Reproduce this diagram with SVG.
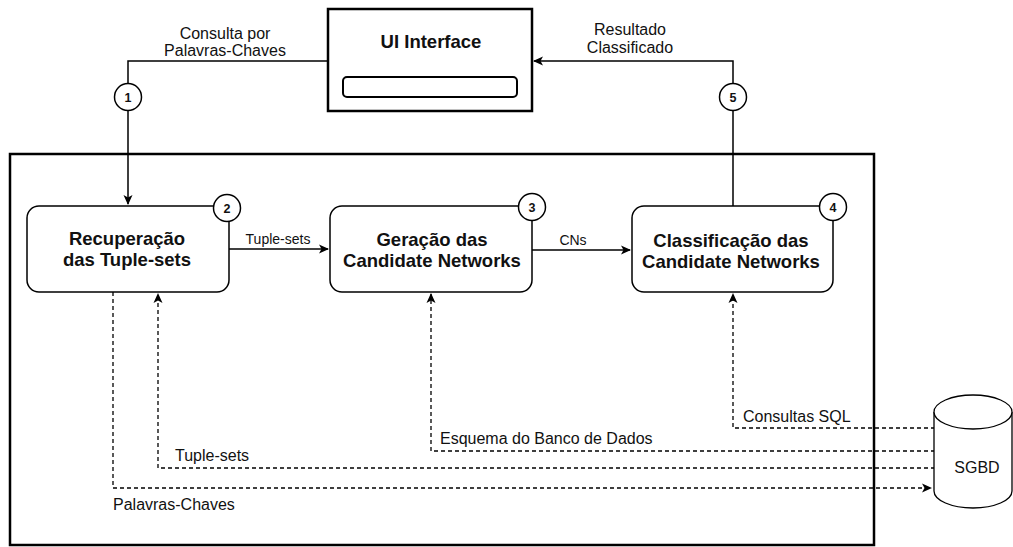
<svg xmlns="http://www.w3.org/2000/svg" width="1013" height="547" viewBox="0 0 1013 547">
  <defs>
    <marker id="arrow" viewBox="0 0 10 10" refX="9" refY="5" markerWidth="10" markerHeight="10" markerUnits="userSpaceOnUse" orient="auto">
      <path d="M0,0.5 L10,5 L0,9.5 L2.5,5 Z" fill="#000"/>
    </marker>
    <style>
      .lbl { font-family: "Liberation Sans", Arial, sans-serif; font-size: 16px; fill: #111; }
      .sm { font-size: 14px; }
      .ttl { font-family: "Liberation Sans", Arial, sans-serif; font-size: 18.5px; font-weight: bold; fill: #111; text-anchor: middle; }
      .num { font-family: "Liberation Sans", Arial, sans-serif; font-size: 12.5px; font-weight: bold; fill: #111; text-anchor: middle; }
      .box { fill: #fff; stroke: #000; stroke-width: 1.5; }
      .step { fill: #fff; stroke: #000; stroke-width: 1.5; }
      .solid { fill: none; stroke: #000; stroke-width: 1.5; }
      .dash { fill: none; stroke: #000; stroke-width: 1.3; stroke-dasharray: 4 3; }
    </style>
  </defs>

  <rect width="1013" height="547" fill="#fff"/>

  <!-- system boundary -->
  <rect x="10" y="154" width="864" height="391" fill="none" stroke="#000" stroke-width="2.5"/>

  <!-- connectors -->
  <g id="connectors">
    <path class="solid" d="M328,61 H128 V204" marker-end="url(#arrow)"/>
    <path class="solid" d="M733,206 V61 H534" marker-end="url(#arrow)"/>
    <path class="solid" d="M229,249 H328" marker-end="url(#arrow)"/>
    <path class="solid" d="M532,250 H630" marker-end="url(#arrow)"/>
    <path class="dash" d="M113,292 V488 H931" marker-end="url(#arrow)"/>
    <path class="dash" d="M935,468 H158 V294" marker-end="url(#arrow)"/>
    <path class="dash" d="M935,451 H431 V294" marker-end="url(#arrow)"/>
    <path class="dash" d="M935,428 H733 V294" marker-end="url(#arrow)"/>

    <text class="lbl" x="225" y="39" text-anchor="middle">Consulta por</text>
    <text class="lbl" x="225" y="56" text-anchor="middle">Palavras-Chaves</text>
    <text class="lbl" x="630" y="35" text-anchor="middle">Resultado</text>
    <text class="lbl" x="630" y="53" text-anchor="middle">Classificado</text>
    <text class="lbl sm" x="278" y="244" text-anchor="middle">Tuple-sets</text>
    <text class="lbl sm" x="573" y="245" text-anchor="middle">CNs</text>
    <text class="lbl" x="743" y="422">Consultas SQL</text>
    <text class="lbl" x="440" y="444">Esquema do Banco de Dados</text>
    <text class="lbl" x="175" y="461">Tuple-sets</text>
    <text class="lbl" x="113" y="510">Palavras-Chaves</text>
  </g>

  <!-- UI -->
  <g id="ui">
    <rect x="328" y="9" width="204" height="102" fill="#fff" stroke="#000" stroke-width="2.5"/>
    <text class="ttl" x="431" y="48" font-size="16.5">UI Interface</text>
    <rect x="343" y="77" width="174" height="20" rx="4" fill="#fff" stroke="#000" stroke-width="2"/>
  </g>

  <!-- step 1 -->
  <g id="step1">
    <circle class="step" cx="128" cy="97" r="13.5"/>
    <text class="num" x="128" y="101.5">1</text>
  </g>

  <!-- step 5 -->
  <g id="step5">
    <circle class="step" cx="733" cy="97" r="13.5"/>
    <text class="num" x="733" y="101.5">5</text>
  </g>

  <!-- Recuperação -->
  <g id="recuperacao">
    <rect class="box" x="27" y="206" width="202" height="86" rx="12"/>
    <text class="ttl" x="127" y="245" font-size="17.5">Recuperação</text>
    <text class="ttl" x="127" y="266" font-size="17.5">das Tuple-sets</text>
    <circle class="step" cx="227" cy="208" r="13.5"/>
    <text class="num" x="227" y="212.5">2</text>
  </g>

  <!-- Geração -->
  <g id="geracao">
    <rect class="box" x="330" y="206" width="202" height="86" rx="12"/>
    <text class="ttl" x="432" y="246">Geração das</text>
    <text class="ttl" x="432" y="267">Candidate Networks</text>
    <circle class="step" cx="532" cy="207" r="13.5"/>
    <text class="num" x="532" y="211.5">3</text>
  </g>

  <!-- Classificação -->
  <g id="classificacao">
    <rect class="box" x="632" y="206" width="201" height="86" rx="12"/>
    <text class="ttl" x="731" y="247">Classificação das</text>
    <text class="ttl" x="731" y="268">Candidate Networks</text>
    <circle class="step" cx="833" cy="207" r="13.5"/>
    <text class="num" x="833" y="211.5">4</text>
  </g>

  <!-- SGBD -->
  <g id="sgbd">
    <path d="M934,412 V491 A39,17 0 0 0 1012,491 V412" fill="#fff" stroke="#000" stroke-width="1.3"/>
    <ellipse cx="973" cy="412" rx="39" ry="17" fill="#fff" stroke="#000" stroke-width="1.3"/>
    <text class="lbl" x="977" y="473" text-anchor="middle" font-size="16.5">SGBD</text>
  </g>
</svg>
